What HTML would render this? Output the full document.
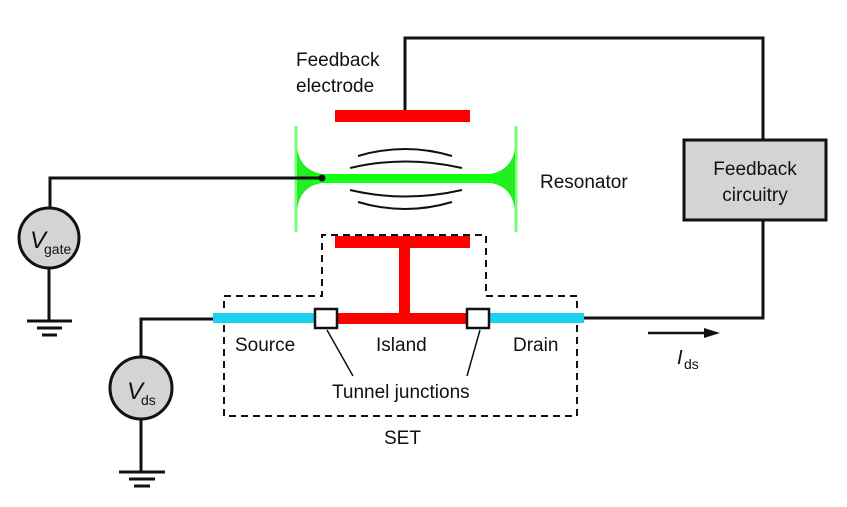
<!DOCTYPE html>
<html><head><style>body{margin:0;background:#fff}svg{display:block}text{font-family:"Liberation Sans",sans-serif;fill:#111}</style></head>
<body>
<svg width="847" height="507" viewBox="0 0 847 507">
<polyline points="405,110 405,38 763,38 763,140" fill="none" stroke="#111" stroke-width="3"/>
<polyline points="763,220 763,318 583,318" fill="none" stroke="#111" stroke-width="3"/>
<rect x="684" y="140" width="142" height="80" fill="#d4d4d4" stroke="#111" stroke-width="3"/>
<text x="755" y="175" font-size="19" text-anchor="middle">Feedback</text>
<text x="755" y="201" font-size="19" text-anchor="middle">circuitry</text>
<rect x="335" y="110" width="135" height="12" fill="#f00"/>
<text x="296" y="66" font-size="19">Feedback</text>
<text x="296" y="92" font-size="19">electrode</text>
<line x1="296" y1="126" x2="296" y2="232" stroke="#7f7" stroke-width="3"/>
<line x1="516" y1="126" x2="516" y2="232" stroke="#7f7" stroke-width="3"/>
<path d="M297,148 Q300,170 322,174 L490,174 Q512,170 515,148 L515,210 Q512,186 490,183 L322,183 Q300,186 297,210Z" fill="#2e2"/>
<rect x="310" y="174" width="190" height="9" fill="#1f1"/>
<g fill="none" stroke="#111" stroke-width="2">
<path d="M358,156 Q405,142 452,156"/>
<path d="M350,168 Q405,155 462,168"/>
<path d="M350,190 Q405,203 462,190"/>
<path d="M358,202 Q405,216 452,202"/>
</g>
<text x="540" y="188" font-size="19">Resonator</text>
<polyline points="322,178 50,178 50,208" fill="none" stroke="#111" stroke-width="3"/>
<circle cx="322" cy="178" r="3.5" fill="#111"/>
<circle cx="49" cy="238" r="30" fill="#d4d4d4" stroke="#111" stroke-width="3"/>
<text x="30" y="248" font-size="24" font-style="italic">V</text>
<text x="44" y="254" font-size="14">gate</text>
<line x1="49" y1="268" x2="49" y2="321" stroke="#111" stroke-width="3"/>
<line x1="27" y1="321" x2="72" y2="321" stroke="#111" stroke-width="3"/>
<line x1="37" y1="328" x2="62" y2="328" stroke="#111" stroke-width="3"/>
<line x1="42" y1="335" x2="57" y2="335" stroke="#111" stroke-width="3"/>
<path d="M224,296 L322,296 L322,235 L486,235 L486,296 L577,296 L577,416 L224,416 Z" fill="none" stroke="#111" stroke-width="2" stroke-dasharray="7,5"/>
<rect x="335" y="236" width="135" height="12" fill="#f00"/>
<rect x="399" y="246" width="11" height="70" fill="#f00"/>
<rect x="335" y="313" width="135" height="11" fill="#f00"/>
<rect x="213" y="313" width="104" height="10" fill="#1cd0f0"/>
<rect x="488" y="313" width="96" height="10" fill="#1cd0f0"/>
<polyline points="213,319 141,319 141,357" fill="none" stroke="#111" stroke-width="3"/>
<ellipse cx="141" cy="388" rx="31" ry="31" fill="#d4d4d4" stroke="#111" stroke-width="3"/>
<text x="127" y="399" font-size="24" font-style="italic">V</text>
<text x="141" y="405" font-size="14">ds</text>
<line x1="141" y1="419" x2="141" y2="472" stroke="#111" stroke-width="3"/>
<line x1="119" y1="472" x2="165" y2="472" stroke="#111" stroke-width="3"/>
<line x1="129" y1="479" x2="155" y2="479" stroke="#111" stroke-width="3"/>
<line x1="134" y1="486" x2="150" y2="486" stroke="#111" stroke-width="3"/>
<rect x="315" y="309" width="22" height="19" fill="#fff" stroke="#111" stroke-width="2.5"/>
<rect x="467" y="309" width="22" height="19" fill="#fff" stroke="#111" stroke-width="2.5"/>
<line x1="327" y1="330" x2="353" y2="376" stroke="#111" stroke-width="1.5"/>
<line x1="480" y1="330" x2="467" y2="376" stroke="#111" stroke-width="1.5"/>
<text x="235" y="351" font-size="19">Source</text>
<text x="376" y="351" font-size="19">Island</text>
<text x="513" y="351" font-size="19">Drain</text>
<text x="332" y="398" font-size="19">Tunnel junctions</text>
<text x="384" y="444" font-size="19">SET</text>
<line x1="648" y1="333" x2="706" y2="333" stroke="#111" stroke-width="2.5"/>
<polygon points="720,333 704,328 704,338" fill="#111"/>
<text x="677" y="364" font-size="20" font-style="italic">I</text>
<text x="684" y="369" font-size="14">ds</text>
</svg>
</body></html>
